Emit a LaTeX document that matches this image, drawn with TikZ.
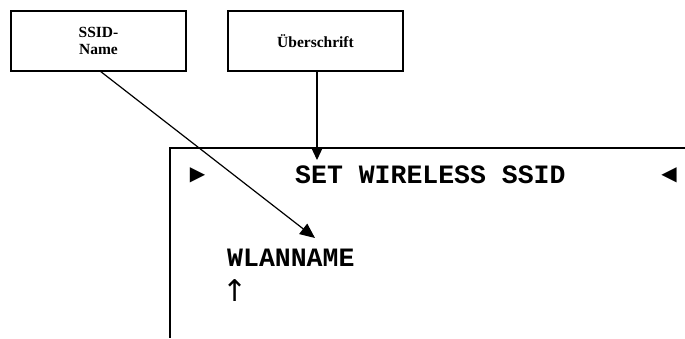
\documentclass[tikz,border=0pt]{standalone}
\usepackage{fontspec}
\setmainfont{Liberation Serif}
\newfontfamily\monobold{Liberation Mono}
\newfontfamily\symfont{DejaVu Sans}
\usetikzlibrary{arrows.meta}
\begin{document}
\begin{tikzpicture}[x=1pt,y=-1pt,
  labelbox/.style={draw,line width=1.3pt,minimum width=175pt,minimum height=60pt,inner sep=0pt,
    font=\fontsize{15.5}{17.5}\selectfont\bfseries,align=center},
  ptr/.style={line width=1.2pt,-{Triangle[length=15pt,width=13pt]}},
  lcd/.style={font=\fontsize{26.5}{30}\selectfont\monobold\bfseries,inner sep=0pt},
  sym/.style={font=\symfont,inner sep=0pt}]
\useasboundingbox (0,0) rectangle (685,338);
\node[labelbox] (ssid) at (98.5,41) {SSID-\\Name};
\node[labelbox] (ueber) at (315.5,41) {Überschrift};
\coordinate (frtop) at (685,148);
\coordinate (frcorner) at (170,148);
\coordinate (frbot) at (170,338);
\draw[line width=1.8pt] (frtop) -- (frcorner) -- (frbot);
\node[lcd,anchor=base west] (title) at (295,183) {SET WIRELESS SSID};
\node[lcd,anchor=base west] (wlan) at (227,266) {WLANNAME};
\node[sym,font=\symfont\fontsize{20}{24}\selectfont] (ltri) at (197.5,175) {▶};
\node[sym,font=\symfont\fontsize{20}{24}\selectfont] (rtri) at (669,175) {◀};
\node[sym,font=\symfont\fontsize{30}{34}\selectfont] (cursor) at (235,291) {↑};
\coordinate (ssidstart) at (100,71);
\coordinate (ssidend) at (315,238);
\coordinate (ueberend) at (317,160);
\draw[ptr] (ssidstart) -- (ssidend);
\draw[ptr,-{Triangle[length=12pt,width=11pt]}] (ueber.south -| ueberend) -- (ueberend);
\end{tikzpicture}
\end{document}
